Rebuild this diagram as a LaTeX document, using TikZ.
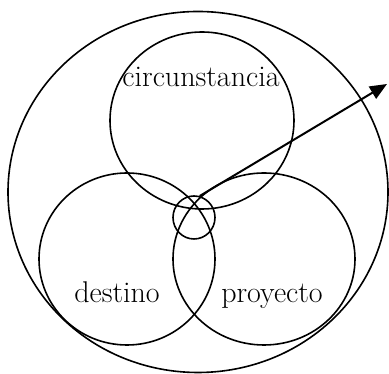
\documentclass[tikz,border=0pt]{standalone}
\usetikzlibrary{shapes.geometric, arrows.meta, positioning}
\tikzset{
  ring/.style={
    ellipse, draw, line width=1.6pt, inner sep=0pt
  },
  word/.style={
    anchor=base, inner sep=0pt, font=\fontsize{30}{32}\selectfont
  }
}
\begin{document}
\begin{tikzpicture}[
  x=1pt, y=1pt,
  pointer/.style={-{Triangle[length=17pt,width=14pt]}, line width=2pt},
]
  \useasboundingbox (0,0) rectangle (389,374);

  % Circles
  \node[ring, minimum width=380pt, minimum height=361pt] (world) at (198,182) {};
  \node[ring, minimum width=184pt, minimum height=177pt] (circ) at (202,253.5) {};
  \node[ring, minimum width=176pt, minimum height=172pt] (dest) at (127,115) {};
  \node[ring, minimum width=182pt, minimum height=172pt] (proy) at (264,115) {};
  \node[ring, minimum width=42pt, minimum height=43pt] (core) at (194,156.5) {};

  % Labels
  \node[word] (circlabel) at (201,287) {circunstancia};
  \node[word] (destlabel) at (117,71) {destino};
  \node[word] (proylabel) at (272,71) {proyecto};

  % Arrow
  \coordinate (tip) at (387,290);
  \draw[pointer] (core.75) -- (tip);

\end{tikzpicture}
\end{document}
